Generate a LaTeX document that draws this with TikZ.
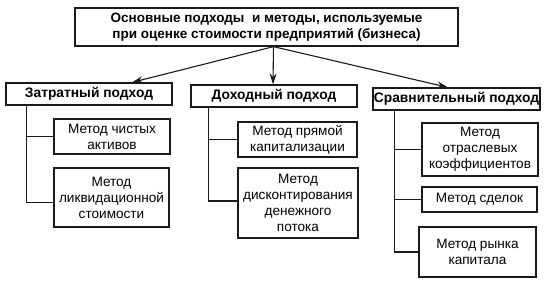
\documentclass[tikz,border=0pt]{standalone}
\usepackage{fontspec}
\setmainfont{Liberation Sans}
\usepackage{tikz}
\usetikzlibrary{arrows.meta}
\definecolor{schemeInk}{HTML}{1A1A1A}

\tikzset{
  headbox/.style={draw=schemeInk, line width=1.3pt, inner sep=0pt, align=center,
    font=\fontsize{13.5}{16.5}\selectfont\bfseries},
  approachbox/.style={draw=schemeInk, line width=1.2pt, inner sep=0pt, align=center,
    font=\fontsize{13.8}{16}\selectfont\bfseries, minimum height=22pt},
  methodbox/.style={draw=schemeInk, line width=1.2pt, inner sep=0pt, align=center,
    font=\fontsize{13.6}{16}\selectfont},
  trunk/.style={draw=schemeInk, line width=1.2pt},
  pointer/.style={draw=schemeInk, line width=1.1pt, -{Stealth[length=11pt,width=7pt]}}
}

\begin{document}
\begin{tikzpicture}[x=1pt, y=-1pt]
  \useasboundingbox (0,0) rectangle (546,295);

  % Title zone
  \node[headbox, minimum width=383pt, minimum height=38pt] (top) at (266.5,27)
    {Основные подходы \ и методы, используемые\\при оценке стоимости предприятий (бизнеса)};
  \coordinate (hub) at ([xshift=7pt]top.south);

  % Approach zone
  \node[approachbox, minimum width=166pt] (zat) at (89,94) {Затратный подход};
  \node[approachbox, minimum width=166pt] (dox) at (274,96) {Доходный подход};
  \node[approachbox, minimum width=167pt] (srav) at (456.5,99) {Сравнительный подход};

  \draw[pointer] (hub) -- ([xshift=43pt]zat.north);
  \draw[pointer] (hub) -- ([xshift=-1pt]dox.north);
  \draw[pointer] (hub) -- ([xshift=-8.5pt]srav.north);

  % Cost methods
  \node[methodbox, minimum width=116pt, minimum height=35pt] (m11) at (112,136.5)
    {Метод чистых\\активов};
  \node[methodbox, minimum width=115pt, minimum height=59pt] (m12) at (111.5,197.5)
    {Метод\\ликвидационной\\стоимости};
  \draw[trunk] ([xshift=21pt]zat.south west) |- (m11.west);
  \draw[trunk] ([xshift=21pt]zat.south west) |- ([yshift=-5pt]m12.west);

  % Income methods
  \node[methodbox, minimum width=119pt, minimum height=35pt] (m21) at (297.5,139.5)
    {Метод прямой\\капитализации};
  \node[methodbox, minimum width=120pt, minimum height=70pt] (m22) at (298,203)
    {Метод\\дисконтирования\\денежного\\потока};
  \draw[trunk] ([xshift=18pt]dox.south west) |- (m21.west);
  \draw[trunk] ([xshift=18pt]dox.south west) |- ([yshift=2pt]m22.west);

  % Comparative methods
  \node[methodbox, minimum width=116pt, minimum height=53pt] (m31) at (480,149.5)
    {Метод\\отраслевых\\коэффициентов};
  \node[methodbox, minimum width=115pt, minimum height=25pt] (m32) at (479.5,199.5)
    {Метод сделок};
  \node[methodbox, minimum width=117pt, minimum height=50pt] (m33) at (477.5,252)
    {Метод рынка\\капитала};
  \draw[trunk] ([xshift=22pt]srav.south west) |- (m31.west);
  \draw[trunk] ([xshift=22pt]srav.south west) |- (m32.west);
  \draw[trunk] ([xshift=22pt]srav.south west) |- (m33.west);
\end{tikzpicture}
\end{document}
